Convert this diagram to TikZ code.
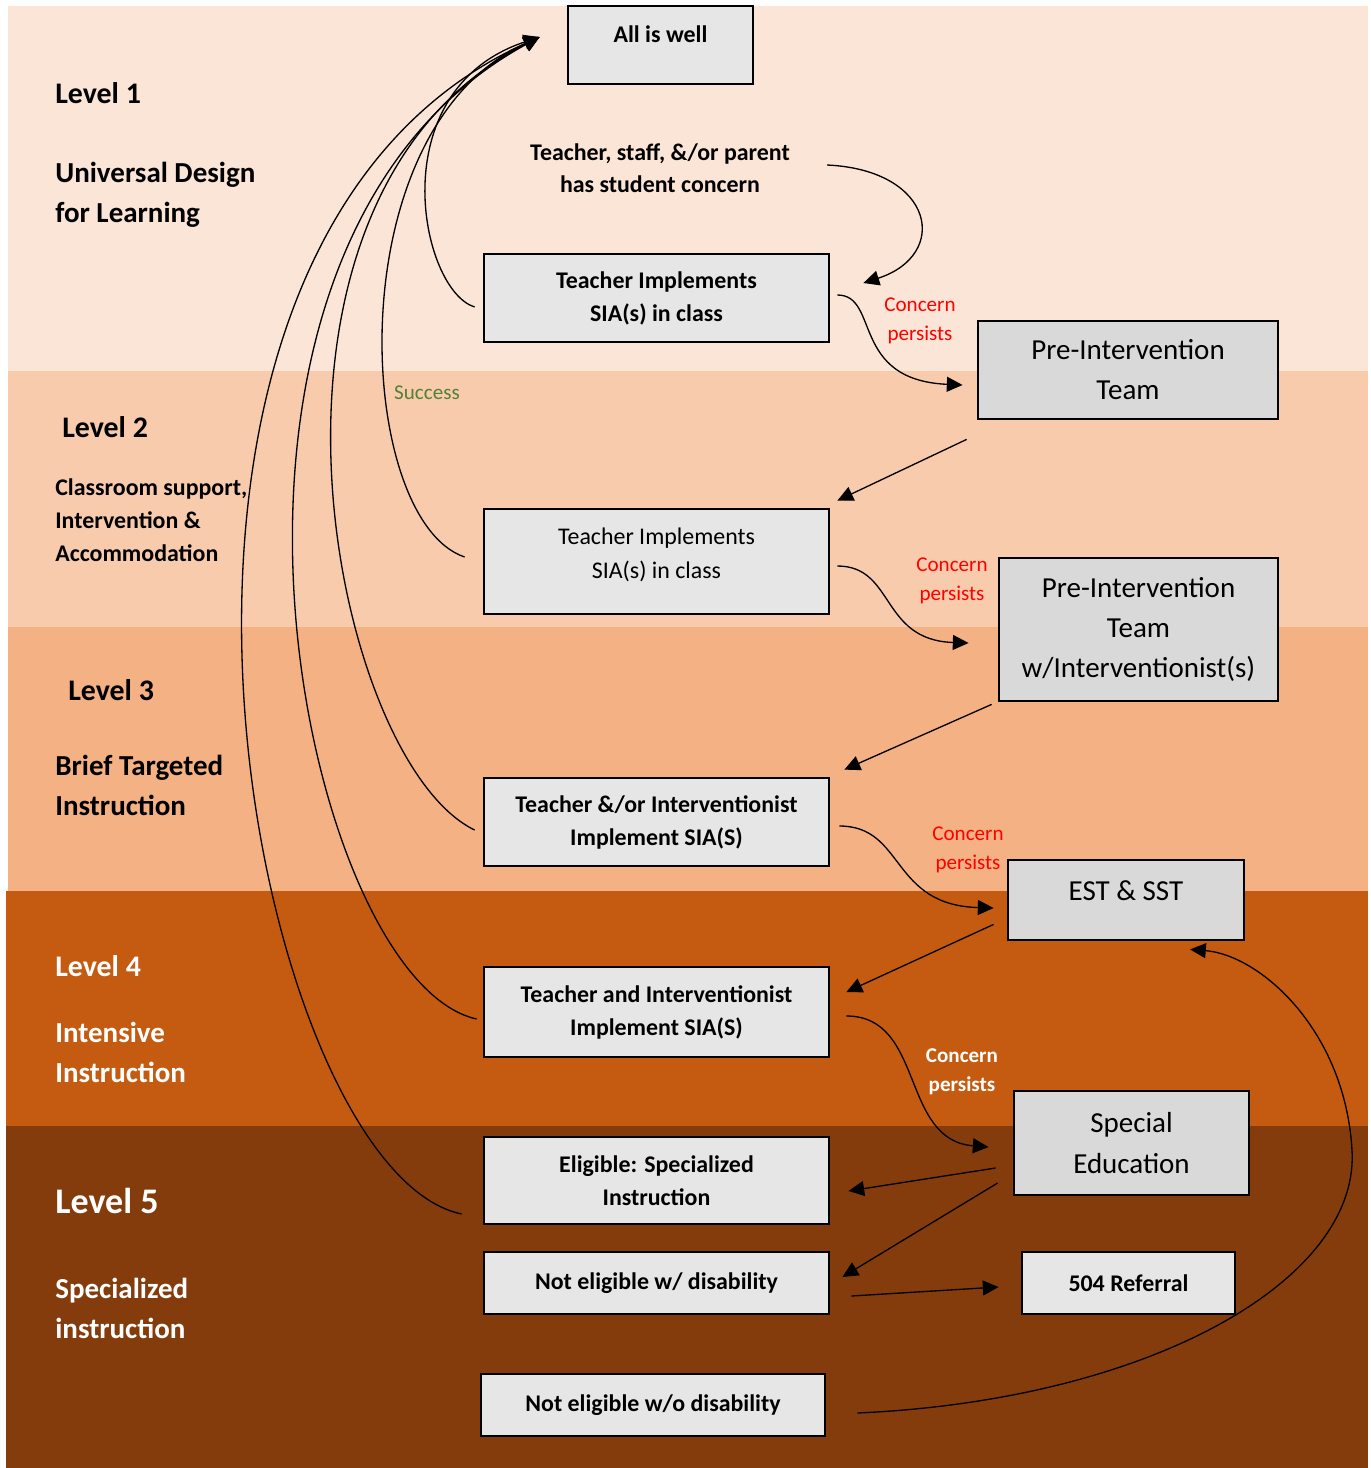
\documentclass[tikz,border=0pt]{standalone}
\usepackage{fontspec}
\setmainfont{Carlito}
\usepackage{tikz}
\usetikzlibrary{arrows.meta,positioning,calc}
\definecolor{bandone}{HTML}{FBE5D6}
\definecolor{bandtwo}{HTML}{F8CBAD}
\definecolor{bandthree}{HTML}{F4B183}
\definecolor{bandfour}{HTML}{C55A11}
\definecolor{bandfive}{HTML}{843C0C}
\definecolor{boxlight}{HTML}{E7E6E6}
\definecolor{boxdark}{HTML}{D9D9D9}
\definecolor{persistred}{HTML}{FF0000}
\definecolor{successgreen}{HTML}{538135}

\begin{document}
\begin{tikzpicture}[
  x=0.02cm, y=-0.02cm,
  lightbox/.style={draw, line width=1.6pt, fill=boxlight, align=center, inner sep=0pt,
                   font=\fontsize{13.6}{18.8}\selectfont\bfseries},
  darkbox/.style={draw, line width=1.6pt, fill=boxdark, align=center, inner sep=0pt,
                  font=\fontsize{16.5}{22.8}\selectfont},
  levelhead/.style={anchor=west, inner sep=0pt, font=\fontsize{17}{20}\selectfont\bfseries},
  leveldesc/.style={anchor=west, inner sep=0pt, align=left,
                    font=\fontsize{16.5}{22.8}\selectfont\bfseries},
  persist/.style={align=center, inner sep=0pt, text=persistred,
                  font=\fontsize{12}{16.5}\selectfont},
  arr/.style={-{Triangle[length=9pt,width=8.5pt]}, line width=0.75pt}
]

%% Background bands
\fill[white] (0,0) rectangle (1371,1468);
\useasboundingbox (0,0) rectangle (1371,1468);
\fill[bandone]   (8,6)    rectangle (1368,371);
\fill[bandtwo]   (8,371)  rectangle (1368,627);
\fill[bandthree] (8,627)  rectangle (1368,891);
\fill[bandfour]  (6,891)  rectangle (1368,1126);
\fill[bandfive]  (6,1126) rectangle (1368,1468);

%% Level labels
\node[levelhead] (lvlone)   at (55,93)  {Level 1};
\node[leveldesc] (descone)  at (55,195) {Universal Design\\for Learning};
\node[levelhead] (lvltwo)   at (62,427) {Level 2};
\node[leveldesc, font=\fontsize{13.6}{18.8}\selectfont\bfseries] (desctwo) at (55,520)
  {Classroom support,\\Intervention \&\\Accommodation};
\node[levelhead] (lvlthree)  at (68,690)   {Level 3};
\node[leveldesc] (descthree) at (55,785.5) {Brief Targeted\\Instruction};
\node[levelhead, text=white] (lvlfour)  at (55,966)  {Level 4};
\node[leveldesc, text=white] (descfour) at (55,1052) {Intensive\\Instruction};
\node[levelhead, text=white, font=\fontsize{20.5}{24}\selectfont\bfseries] (lvlfive) at (55,1201) {Level 5};
\node[leveldesc, text=white] (descfive) at (55,1308.5) {Specialized\\instruction};

%% Left column
\node[lightbox, minimum width=3.7cm, minimum height=1.56cm, text height=0.72cm, text depth=0.84cm]
  (allwell) at (660.5,45) {All is well};
\node[align=center, inner sep=0pt, font=\fontsize{13.6}{18.2}\selectfont\bfseries]
  (concern) at (660,168) {Teacher, staff, \&/or parent\\has student concern};
\node[lightbox, minimum width=6.9cm, minimum height=1.76cm] (tione) at (656.5,298)
  {Teacher Implements\\SIA(s) in class};
\node[lightbox, font=\fontsize{13.6}{18.8}\selectfont, minimum width=6.9cm, minimum height=2.1cm,
      text height=1.38cm, text depth=0.72cm]
  (titwo) at (656.5,561.5) {Teacher Implements\\SIA(s) in class};
\node[lightbox, minimum width=6.9cm, minimum height=1.76cm] (tiorint) at (656.5,822)
  {Teacher \&/or Interventionist\\Implement SIA(S)};
\node[lightbox, minimum width=6.9cm, minimum height=1.8cm] (tiandint) at (656.5,1012)
  {Teacher and Interventionist\\Implement SIA(S)};
\node[lightbox, minimum width=6.9cm, minimum height=1.74cm] (eligible) at (656.5,1180.5)
  {Eligible: Specialized\\Instruction};
\node[lightbox, minimum width=6.9cm, minimum height=1.24cm] (notelig) at (656.5,1283)
  {Not eligible w/ disability};
\node[lightbox, minimum width=6.88cm, minimum height=1.24cm] (noteligwo) at (653,1405)
  {Not eligible w/o disability};

%% Right column
\node[darkbox, minimum width=6cm, minimum height=1.96cm] (preteam) at (1128,370)
  {Pre-Intervention\\Team};
\node[darkbox, minimum width=5.58cm, minimum height=2.86cm] (preteamint) at (1138.5,629.5)
  {Pre-Intervention\\Team\\w/Interventionist(s)};
\node[darkbox, minimum width=4.72cm, minimum height=1.6cm, text height=0.8cm, text depth=0.8cm]
  (estsst) at (1126,900) {EST \& SST};
\node[darkbox, minimum width=4.7cm, minimum height=2.08cm] (specialed) at (1131.5,1143)
  {Special\\Education};
\node[lightbox, minimum width=4.26cm, minimum height=1.24cm] (referral) at (1128.5,1283)
  {504 Referral};

%% Arrow labels
\node[persist] (cpone)   at (920,321) {Concern\\persists};
\node[persist] (cptwo)   at (952,581) {Concern\\persists};
\node[persist] (cpthree) at (968,850) {Concern\\persists};
\node[persist, text=white, font=\fontsize{12}{16.5}\selectfont\bfseries] (cpfour) at (962,1072) {Concern\\persists};
\node[inner sep=0pt, text=successgreen, font=\fontsize{12}{14}\selectfont] (success) at (427,393) {Success};

%% Success curves back to All is well
\coordinate (wellin) at ($(allwell.west)+(-27,-8)$);
\draw[arr] ($(tione.west)+(-8,9)$)       .. controls (420,290) and (380,90)  .. (wellin);
\draw[arr] ($(titwo.west)+(-18,-4.5)$)   .. controls (355,520) and (335,130) .. (wellin);
\draw[arr] ($(tiorint.west)+(-8,8)$)     .. controls (330,760) and (220,200) .. (wellin);
\draw[arr] ($(tiandint.west)+(-6,7)$)    .. controls (300,980) and (150,250) .. (wellin);
\draw[arr] ($(eligible.west)+(-21,33.5)$) .. controls (250,1170) and (70,250) .. (wellin);

%% Concern persists curves
\draw[arr] ($(concern.east)+(37,-3)$) .. controls (935,170) and (950,255) .. ($(tione.east)+(33,-15)$);
\draw[arr] ($(tione.east)+(7,-3)$)    .. controls (880,295) and (850,380) .. ($(preteam.west)+(-14,15)$);
\draw[arr] ($(titwo.east)+(7,4.5)$)   .. controls (895,566) and (880,640) .. ($(preteamint.west)+(-29,13.5)$);
\draw[arr] ($(tiorint.east)+(9,4)$)   .. controls (905,826) and (890,905) .. ($(estsst.west)+(-13,8)$);
\draw[arr] ($(tiandint.east)+(16,4)$) .. controls (925,1016) and (900,1140) .. ($(specialed.west)+(-24,4)$);

%% Straight hand-offs
\draw[arr] ($(preteam.south west)+(-10,19)$)   -- ($(titwo.north east)+(7,-7)$);
\draw[arr] ($(preteamint.south west)+(-6,2)$)  -- ($(tiorint.north east)+(14,-7)$);
\draw[arr] ($(estsst.south west)+(-13,-17)$)   -- ($(tiandint.east)+(16,-20)$);
\draw[arr] ($(specialed.west)+(-17,25)$)       -- ($(eligible.east)+(18,10.5)$);
\draw[arr] ($(specialed.west)+(-15,40)$)       -- ($(notelig.east)+(12,-6)$);
\draw[arr] ($(notelig.east)+(21,13)$)          -- ($(referral.west)+(-22,4)$);

%% Not eligible w/o disability back to EST & SST
\draw[arr] ($(noteligwo.east)+(31,8)$) .. controls (1150,1400) and (1360,1280) .. (1352,1150)
  .. controls (1345,1030) and (1260,955) .. ($(estsst.south)+(64,8)$);

\end{tikzpicture}
\end{document}
